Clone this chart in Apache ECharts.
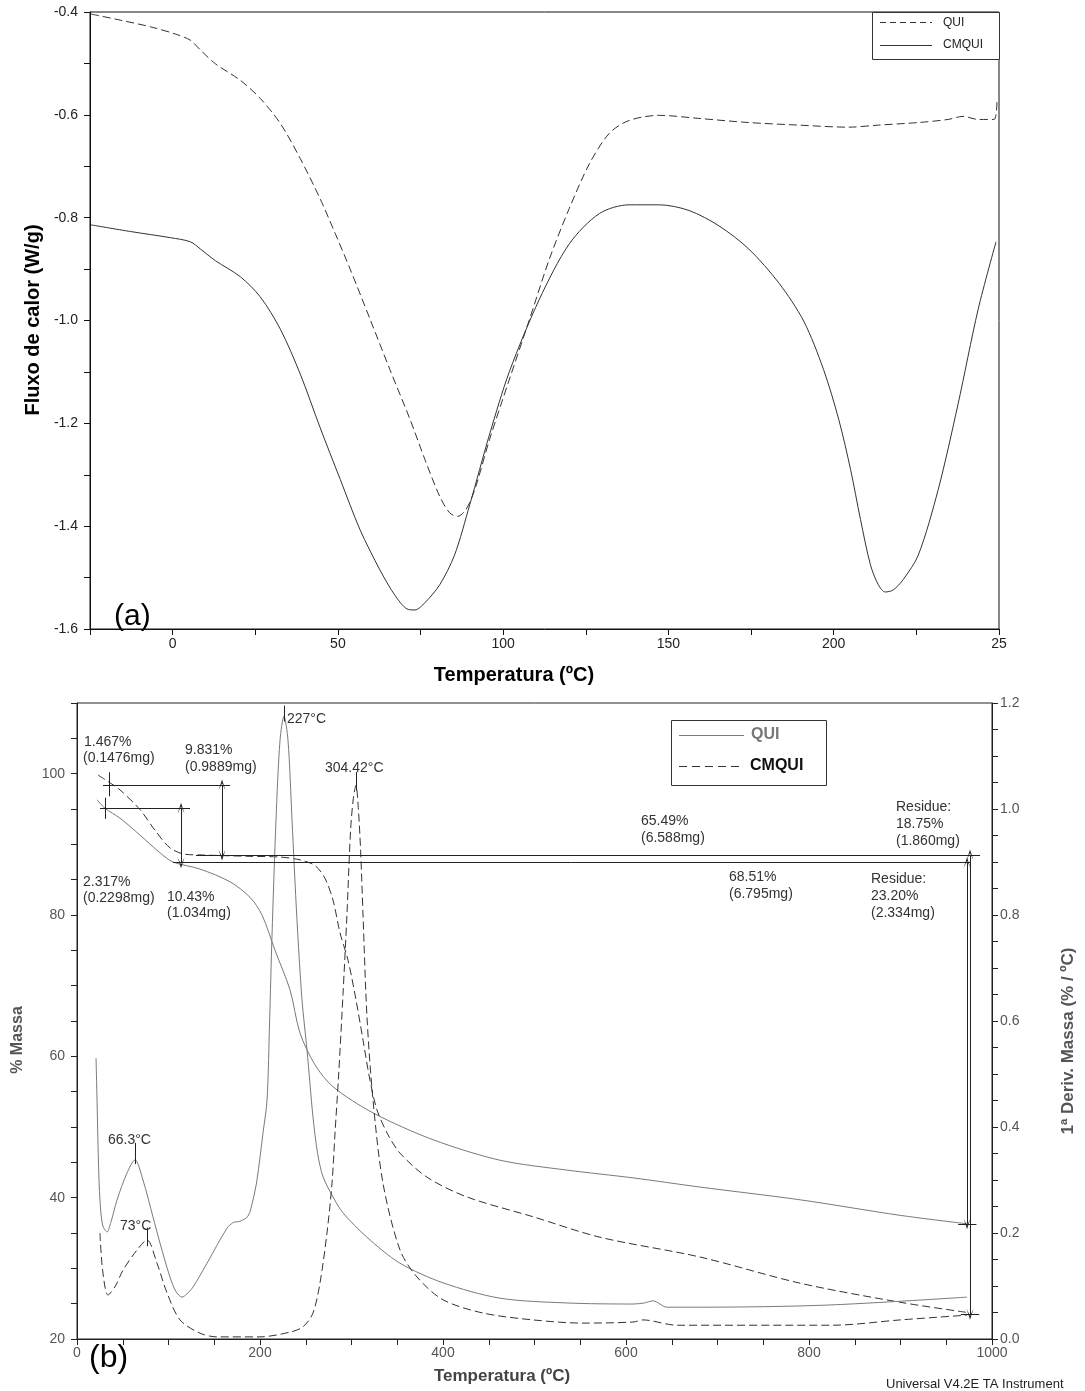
<!DOCTYPE html>
<html><head><meta charset="utf-8">
<script src="https://cdn.jsdelivr.net/npm/echarts@6/dist/echarts.min.js"></script>
<style>html,body{margin:0;padding:0;background:#fff}#c{width:1085px;height:1391px}</style>
</head><body><div id="c"></div>
<script>
// ---------- (a) DSC data: [temperature °C, heat flow W/g] ----------
const dscQUI = [[-24.7,-0.404],[-15.7,-0.416],[-6.6,-0.429],[0.9,-0.443],[5.4,-0.455],[8.4,-0.474],[13,-0.501],[20.5,-0.533],[26.5,-0.568],[32.6,-0.617],[38.6,-0.685],[44.6,-0.763],[49.2,-0.831],[53.7,-0.9],[59.7,-0.997],[65.7,-1.095],[71.8,-1.192],[76.3,-1.27],[80.8,-1.342],[83.8,-1.374],[86.2,-1.381],[88.7,-1.368],[91.4,-1.329],[95.9,-1.231],[101.9,-1.114],[108,-0.997],[114,-0.88],[120,-0.782],[126.1,-0.695],[132.1,-0.636],[138.1,-0.611],[147.2,-0.601],[159.2,-0.607],[174.3,-0.615],[189.4,-0.62],[204.5,-0.624],[213.5,-0.62],[225.6,-0.615],[234.6,-0.609],[239.1,-0.603],[243.7,-0.609],[248.5,-0.609],[249.4,-0.568]];
const dscCMQUI = [[-24.7,-0.814],[-12.7,-0.827],[-0.6,-0.839],[5.4,-0.847],[8.4,-0.861],[13,-0.884],[20.5,-0.915],[26.5,-0.954],[32.6,-1.017],[38.6,-1.104],[44.6,-1.208],[50.7,-1.309],[56.7,-1.407],[62.7,-1.485],[67.2,-1.534],[70.9,-1.561],[73.3,-1.563],[76.3,-1.549],[80.8,-1.514],[85.3,-1.456],[89.9,-1.358],[95.9,-1.221],[101.9,-1.099],[111,-0.958],[120,-0.851],[129.1,-0.792],[138.1,-0.775],[147.2,-0.775],[156.2,-0.786],[165.3,-0.816],[174.3,-0.861],[183.4,-0.927],[190.9,-1.001],[196.9,-1.095],[201.5,-1.192],[205.1,-1.29],[208.1,-1.387],[211.1,-1.475],[213.5,-1.514],[215.6,-1.528],[218,-1.524],[221,-1.504],[225.6,-1.456],[231.6,-1.329],[237.6,-1.163],[243.7,-0.978],[249.1,-0.847]];

// ---------- (b) TGA / DTG data ----------
const tgaQUI = [[21.9,96.3],[30.6,95.1],[47,93.7],[68.9,91.3],[90.7,88.8],[104.9,87.5],[134.4,86.5],[167.2,84.7],[189.1,82.5],[202.2,80],[216.4,75],[232.8,69.4],[243.7,63.3],[260.1,58.8],[279.8,55.7],[323.5,52],[389.1,48.2],[462.3,45.3],[535.5,43.9],[607.7,42.8],[680.9,41.5],[790.2,39.7],[899.5,37.5],[972.7,36.3]];
const tgaCMQUI = [[23,99.8],[35,98.8],[47,97.7],[68.9,94.9],[85.2,92],[101.6,89.5],[118,88.6],[134.4,88.5],[189.1,88.3],[221.9,88.2],[243.7,87.8],[260.1,87],[271,85.2],[279.8,82.1],[287.4,77.5],[296.2,73.6],[304.9,68],[312.6,62.3],[320.2,56.6],[327.9,52.4],[339.9,48.9],[353,46.3],[382.5,42.9],[426.2,40.1],[498.4,37.3],[571.6,34.4],[680.9,31.6],[790.2,27.9],[899.5,25.2],[976,23.7]];
const dtgQUI = [[20.8,0.53],[21.9,0.45],[23.5,0.33],[25.1,0.262],[28,0.215],[32.8,0.202],[37,0.22],[43.7,0.262],[54.6,0.313],[63.4,0.338],[72.1,0.3],[83.1,0.23],[90.7,0.181],[101.6,0.117],[108,0.09],[114.8,0.079],[120,0.085],[126.8,0.098],[142.1,0.143],[163.9,0.209],[171,0.22],[178.1,0.222],[186.9,0.232],[192,0.26],[196.7,0.3],[203.3,0.389],[207.7,0.451],[210.5,0.6],[213.1,0.76],[217.5,0.98],[221.9,1.13],[226.2,1.175],[230.6,1.13],[235,0.979],[240.4,0.791],[245.9,0.64],[251.4,0.545],[257.9,0.419],[263,0.35],[268.9,0.306],[279.8,0.268],[290.7,0.238],[316.9,0.192],[353,0.143],[400,0.106],[462.3,0.077],[535.5,0.068],[607.7,0.066],[620,0.068],[629.5,0.072],[644.8,0.06],[680.9,0.06],[819.7,0.064],[972.7,0.079]];
const dtgCMQUI = [[25.1,0.2],[28,0.13],[33.9,0.083],[42,0.1],[50.3,0.13],[65.6,0.168],[76.5,0.187],[87.4,0.143],[98.4,0.087],[112.6,0.036],[134.4,0.011],[153,0.004],[200,0.004],[232.8,0.013],[247,0.023],[257.9,0.049],[265.6,0.106],[273.2,0.2],[278.7,0.294],[282,0.389],[286,0.5],[290.7,0.65],[295,0.8],[299,0.96],[302,1.02],[304.9,1.045],[307.5,1.0],[310,0.92],[312.6,0.8],[316.9,0.608],[323.5,0.451],[334.4,0.294],[353,0.168],[371.6,0.117],[400,0.074],[443.7,0.049],[498.4,0.036],[553,0.03],[607.7,0.032],[618.6,0.036],[655.7,0.026],[826.2,0.026],[899.5,0.036],[972.7,0.045]];

// mass-loss construction lines (temperature, % mass)
const stepLinesQUI = [
  [[25.1,95.1],[123.5,95.1],'none','none'],
  [[113.7,95.1],[113.7,87.4],'arrow','arrow'],
  [[104.9,87.4],[976,87.4],'none','none'],
  [[972.7,87.4],[972.7,36.3],'arrow','arrow'],
  [[30.6,96.6],[30.6,93.6],'none','none'],
  [[963,36.3],[983,36.3],'none','none']
];
const stepLinesCMQUI = [
  [[28.4,98.4],[167.2,98.4],'none','none'],
  [[158.5,98.4],[158.5,88.5],'arrow','arrow'],
  [[130,88.5],[987,88.5],'none','none'],
  [[976,88.5],[976,23.5],'arrow','arrow'],
  [[35,100.2],[35,96.8],'none','none'],
  [[966,23.5],[986,23.5],'none','none']
];
// peak ticks (temperature, derivative from, derivative to)
const peakTicks = [[226.2,1.165,1.195],[304.9,1.035,1.07],[63.4,0.33,0.37],[76.5,0.175,0.21]];

const FONT = 'Liberation Sans, Arial, sans-serif';
const chart = echarts.init(document.getElementById('c'), null, {renderer:'canvas'});

function lineSeries(name, data, xi, yi, color, dash) {
  return {
    name, type:'line', data, xAxisIndex:xi, yAxisIndex:yi, symbol:'none',
    smooth:0.3, silent:true,
    lineStyle:{color, width:1, type: dash ? [8,4] : 'solid'}
  };
}
const arrowPath = 'path://M5,0 L10,12 L5,4 L0,12 Z';
function segs(list) {
  return list.map(s => [
    {coord:s[0], symbol: s[2]==='arrow'?arrowPath:'none', symbolSize:[7,11]},
    {coord:s[1], symbol: s[3]==='arrow'?arrowPath:'none', symbolSize:[7,11]}
  ]);
}
const txt = (text, x, y, extra) => ({type:'text', x, y, silent:true,
  style:Object.assign({text, font:'14px '+FONT, fill:'#333', textVerticalAlign:'middle'}, extra||{})});
const vtxt = (text, x, y, font, fill) => ({type:'text', x, y, rotation:Math.PI/2, silent:true,
  style:{text, font, fill, textAlign:'center', textVerticalAlign:'middle'}});

const axisCommon = (color) => ({
  axisLine:{show:true, onZero:false, lineStyle:{color}},
  axisTick:{show:true, length:6, lineStyle:{color}},
  splitLine:{show:false}
});

const option = {
  animation:false,
  backgroundColor:'#fff',
  grid:[
    {left:90, top:12, width:909, height:617, show:true, borderColor:'#111', borderWidth:1, backgroundColor:'transparent', outerBoundsMode:'none'},
    {left:77, top:703, width:915, height:636, show:true, borderColor:'#222', borderWidth:1, backgroundColor:'transparent', outerBoundsMode:'none'}
  ],
  xAxis:[
    Object.assign({gridIndex:0, type:'value', min:-25, max:250, interval:25,
     axisLabel:{color:'#222', fontSize:14, fontFamily:FONT, margin:8,
       formatter:v => (v%50===0 ? (v===250 ? '25' : String(v)) : '')}}, axisCommon('#111')),
    Object.assign({gridIndex:1, type:'value', min:0, max:1000, interval:50,
     axisLabel:{color:'#555', fontSize:14, fontFamily:FONT, margin:7,
       formatter:v => (v%200===0 ? String(v) : '')}}, axisCommon('#222'))
  ],
  yAxis:[
    Object.assign({gridIndex:0, type:'value', min:-1.6, max:-0.4, interval:0.1,
     axisLabel:{color:'#222', fontSize:14, fontFamily:FONT, margin:12,
       formatter:v => (Math.round(v*10)%2===0 ? v.toFixed(1) : '')}}, axisCommon('#111')),
    Object.assign({gridIndex:1, type:'value', min:20, max:110, interval:5,
     axisLabel:{color:'#555', fontSize:14, fontFamily:FONT, margin:12,
       formatter:v => (v%20===0 && v<=100 ? String(v) : '')}}, axisCommon('#222')),
    Object.assign({gridIndex:1, type:'value', position:'right', min:0, max:1.2, interval:0.05,
     axisLabel:{color:'#555', fontSize:14, fontFamily:FONT, margin:8,
       formatter:v => (Math.round(v*20)%4===0 ? v.toFixed(1) : '')}}, axisCommon('#222'))
  ],
  series:[
    lineSeries('QUI', dscQUI, 0, 0, '#333', true),
    lineSeries('CMQUI', dscCMQUI, 0, 0, '#333', false),
    lineSeries('QUI', tgaQUI, 1, 1, '#7a7a7a', false),
    lineSeries('CMQUI', tgaCMQUI, 1, 1, '#333', true),
    lineSeries('QUI', dtgQUI, 1, 2, '#7a7a7a', false),
    lineSeries('CMQUI', dtgCMQUI, 1, 2, '#333', true),
    {type:'line', name:'steps', xAxisIndex:1, yAxisIndex:1, data:[], silent:true,
     markLine:{silent:true, animation:false, label:{show:false},
       lineStyle:{type:'solid', color:'#222', width:1},
       data: segs(stepLinesQUI).concat(segs(stepLinesCMQUI))}},
    {type:'line', name:'peaks', xAxisIndex:1, yAxisIndex:2, data:[], silent:true,
     markLine:{silent:true, animation:false, label:{show:false}, symbol:'none',
       lineStyle:{type:'solid', color:'#222', width:1},
       data: peakTicks.map(p => [{coord:[p[0],p[1]]},{coord:[p[0],p[2]]}])}}
  ],
  graphic:[
    // (a) titles
    vtxt('Fluxo de calor (W/g)', 33, 320, 'bold 20px '+FONT, '#000'),
    txt('Temperatura (ºC)', 514, 675, {font:'bold 20px '+FONT, fill:'#000', textAlign:'center'}),
    txt('(a)', 114, 617, {font:'30px '+FONT, fill:'#000'}),
    // (a) legend
    {type:'rect', shape:{x:872.5, y:12.5, width:127, height:47}, style:{fill:'#fff', stroke:'#333', lineWidth:1}, silent:true},
    {type:'line', shape:{x1:880, y1:22.5, x2:932, y2:22.5}, style:{stroke:'#333', lineWidth:1, lineDash:[6,4]}, silent:true},
    {type:'line', shape:{x1:880, y1:45.5, x2:932, y2:45.5}, style:{stroke:'#333', lineWidth:1}, silent:true},
    txt('QUI', 943, 23, {font:'12px '+FONT, fill:'#222'}),
    txt('CMQUI', 943, 45, {font:'12px '+FONT, fill:'#222'}),
    // (b) titles
    vtxt('% Massa', 18, 1040, 'bold 16px '+FONT, '#555'),
    vtxt('1ª Deriv. Massa (% / ºC)', 1068, 1041, 'bold 17px '+FONT, '#555'),
    txt('Temperatura (ºC)', 502, 1376, {font:'bold 17px '+FONT, fill:'#444', textAlign:'center'}),
    txt('(b)', 89, 1358, {font:'32px '+FONT, fill:'#000'}),
    txt('Universal V4.2E TA Instrument', 886, 1384, {font:'13px '+FONT, fill:'#222'}),
    // (b) legend
    {type:'rect', shape:{x:671.5, y:720.5, width:155, height:65}, style:{fill:'#fff', stroke:'#333', lineWidth:1}, silent:true},
    {type:'line', shape:{x1:679, y1:735.5, x2:744, y2:735.5}, style:{stroke:'#7a7a7a', lineWidth:1}, silent:true},
    {type:'line', shape:{x1:679, y1:766.5, x2:744, y2:766.5}, style:{stroke:'#333', lineWidth:1, lineDash:[8,5]}, silent:true},
    txt('QUI', 751, 735, {font:'bold 16px '+FONT, fill:'#777'}),
    txt('CMQUI', 750, 766, {font:'bold 16px '+FONT, fill:'#111'}),
    // annotations
    txt('1.467%', 84, 742), txt('(0.1476mg)', 83, 758),
    txt('9.831%', 185, 750), txt('(0.9889mg)', 185, 767),
    txt('227°C', 287, 719),
    txt('304.42°C', 325, 768),
    txt('2.317%', 83, 882), txt('(0.2298mg)', 83, 898),
    txt('10.43%', 167, 897), txt('(1.034mg)', 167, 913),
    txt('65.49%', 641, 821), txt('(6.588mg)', 641, 838),
    txt('68.51%', 729, 877), txt('(6.795mg)', 729, 894),
    txt('Residue:', 896, 807), txt('18.75%', 896, 824), txt('(1.860mg)', 896, 841),
    txt('Residue:', 871, 879), txt('23.20%', 871, 896), txt('(2.334mg)', 871, 913),
    txt('66.3°C', 108, 1140),
    txt('73°C', 120, 1226)
  ]
};
chart.setOption(option);
</script></body></html>
